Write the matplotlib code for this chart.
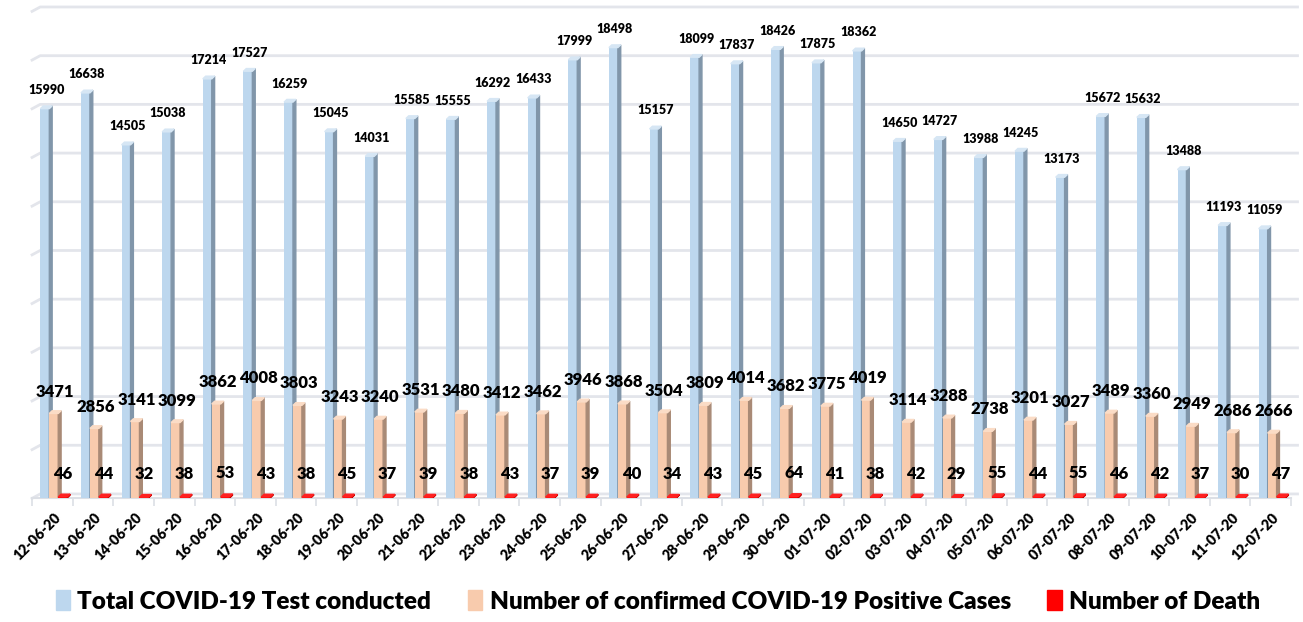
import matplotlib.pyplot as plt
from matplotlib.patches import Polygon, Patch
import numpy as np

plt.rcParams['font.family'] = ['Lato', 'DejaVu Sans']

dates = ['12-06-20', '13-06-20', '14-06-20', '15-06-20', '16-06-20', '17-06-20',
         '18-06-20', '19-06-20', '20-06-20', '21-06-20', '22-06-20', '23-06-20',
         '24-06-20', '25-06-20', '26-06-20', '27-06-20', '28-06-20', '29-06-20',
         '30-06-20', '01-07-20', '02-07-20', '03-07-20', '04-07-20', '05-07-20',
         '06-07-20', '07-07-20', '08-07-20', '09-07-20', '10-07-20', '11-07-20',
         '12-07-20']
tests = [15990, 16638, 14505, 15038, 17214, 17527, 16259, 15045, 14031, 15585,
         15555, 16292, 16433, 17999, 18498, 15157, 18099, 17837, 18426, 17875,
         18362, 14650, 14727, 13988, 14245, 13173, 15672, 15632, 13488, 11193,
         11059]
positives = [3471, 2856, 3141, 3099, 3862, 4008, 3803, 3243, 3240, 3531,
             3480, 3412, 3462, 3946, 3868, 3504, 3809, 4014, 3682, 3775,
             4019, 3114, 3288, 2738, 3201, 3027, 3489, 3360, 2949, 2686,
             2666]
deaths = [46, 44, 32, 38, 53, 43, 38, 45, 37, 39, 38, 43, 37, 39, 40, 34,
          43, 45, 64, 41, 38, 42, 29, 55, 44, 55, 46, 42, 37, 30, 47]

labels = ['Total COVID-19 Test conducted',
          'Number of confirmed COVID-19 Positive Cases',
          'Number of Death']
front = ['#bdd7ee', '#f8cbad', '#ff0000']
side = ['#8196aa', '#a98a76', '#c00000']
top = ['#d6e6f4', '#fbdcc6', '#ff2020']

x = np.arange(len(dates))
width = 0.22
offsets = [-0.185, 0.035, 0.255]
dx, dy = 0.07, 110  # fake 3D depth
wall = 165          # back wall sits a few pixels above the floor front

fig = plt.figure(figsize=(13.03, 6.22), dpi=100)
ax = fig.add_axes([0.0246, 0.1994, 0.9662, 0.7829])
ax.set_xlim(-0.5, len(dates) - 0.5)
ax.set_ylim(0, 20000)
ax.axis('off')

# back wall gridlines with a short slanted left end
for g in range(0, 20001, 2000):
    ax.plot([-0.5, -0.3, 30.66], [g + wall - 180, g + wall, g + wall],
            color='#e3e5eb', lw=2, clip_on=False, zorder=0)
# floor front line and category ticks
ax.plot([-0.5, 30.5], [-20, -20], color='#dcdfe5', lw=1.5, clip_on=False, zorder=0)
ax.vlines(np.arange(-0.5, len(dates)), -330, -20, color='#dcdfe5', lw=1.2,
          clip_on=False, zorder=0)

series = [tests, positives, deaths]
for k, vals in enumerate(series):
    bars = ax.bar(x + offsets[k], vals, width, color=front[k], zorder=3 + k)
    for b in bars:
        x0, x1, h = b.get_x(), b.get_x() + b.get_width(), b.get_height()
        ax.add_patch(Polygon([(x1, 0), (x1 + dx, dy), (x1 + dx, h + dy), (x1, h)],
                             closed=True, color=side[k], zorder=3 + k))
        ax.add_patch(Polygon([(x0, h), (x1, h), (x1 + dx, h + dy), (x0 + dx, h + dy)],
                             closed=True, color=top[k], zorder=3 + k))

# data labels
for i in range(len(dates)):
    ax.annotate(f'{tests[i]}', (x[i] + offsets[0] + dx / 2, tests[i]),
                xytext=(0, 9), textcoords='offset points', ha='center',
                va='bottom', fontsize=9, fontweight='heavy', zorder=10)
    ax.annotate(f'{positives[i]}', (x[i] + offsets[1] + dx / 2, positives[i]),
                xytext=(0, 10), textcoords='offset points', ha='center',
                va='bottom', fontsize=12, fontweight='heavy', zorder=10)
    ax.annotate(f'{deaths[i]}', (x[i] + offsets[2], deaths[i]),
                xytext=(0, 11), textcoords='offset points', ha='center',
                va='bottom', fontsize=12, fontweight='heavy', zorder=10)
    ax.text(x[i] + 0.15, -700, dates[i], rotation=45, rotation_mode='anchor',
            ha='right', va='center', fontsize=10.3, fontweight='heavy')

handles = [Patch(color=c) for c in front]
fig.legend(handles, labels, loc='lower center', bbox_to_anchor=(0.505, -0.02),
           ncol=3, frameon=False, handlelength=0.6, handleheight=0.9,
           handletextpad=0.3, columnspacing=1.5,
           prop={'size': 17.5, 'weight': 'heavy'})

plt.savefig('out.png', dpi=100)
plt.close()
